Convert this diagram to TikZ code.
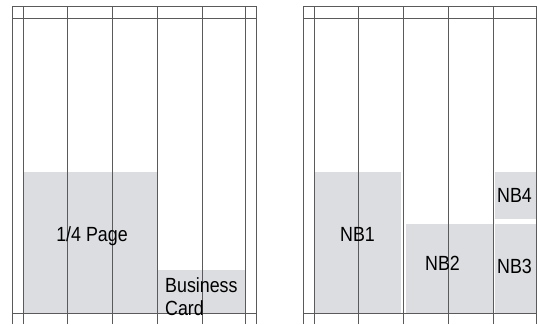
\documentclass[tikz,border=0pt]{standalone}
\usepackage{fontspec}
\setmainfont[FakeStretch=0.87]{Liberation Sans}
\definecolor{boxfill}{RGB}{220,221,224}
\definecolor{gridline}{RGB}{90,90,90}
\begin{document}
\begin{tikzpicture}[x=1pt,y=-1pt,
  adbox/.style={fill=boxfill,draw=none},
  grid/.style={draw=gridline,line width=0.8pt},
  lbl/.style={font=\fontsize{20.5}{23}\selectfont,inner sep=0pt,anchor=base,text=black}]
\useasboundingbox (0,0) rectangle (537,324);
\fill[white] (0,0) rectangle (537,324);
% left panel fills
\path[adbox] (23,172) rectangle (156.5,313);
\path[adbox] (157,270) rectangle (245,313);
% right panel fills
\path[adbox] (314.5,172) rectangle (400.5,313);
\path[adbox] (405.5,224) rectangle (492.5,313);
\path[adbox] (495,172) rectangle (535.5,219);
\path[adbox] (495,224) rectangle (535.5,313);
% left grid
\foreach \x in {12,23,67.5,112,157,202,245,256}
  \draw[grid] (\x,6) -- (\x,324);
\foreach \y in {6,18,313}
  \draw[grid] (12,\y) -- (256,\y);
% right grid
\foreach \x in {303,314,358.5,403,448,493,536.5}
  \draw[grid] (\x,6) -- (\x,324);
\foreach \y in {6,18,313}
  \draw[grid] (303,\y) -- (537,\y);
% labels
\node[lbl] (quarter) at (92,241) {1/4 Page};
\node[lbl,anchor=base west] (biz1) at (165,292) {Business};
\node[lbl,anchor=base west] (biz2) at (165,315) {Card};
\node[lbl] (nb1) at (357.5,241) {NB1};
\node[lbl] (nb2) at (442.5,270) {NB2};
\node[lbl] (nb3) at (514.5,273) {NB3};
\node[lbl] (nb4) at (514.5,202) {NB4};
\end{tikzpicture}
\end{document}
